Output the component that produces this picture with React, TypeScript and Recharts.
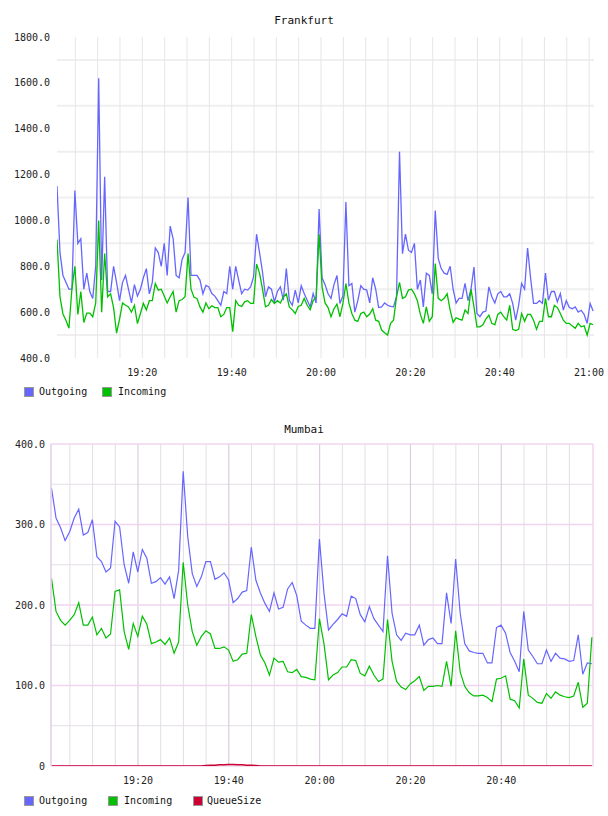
import React from 'react';
import { LineChart, Line, XAxis, YAxis, CartesianGrid, Legend } from 'recharts';

// ---------- data ----------
// x values are minutes after 19:00
const TIME_TICKS = [20, 40, 60, 80, 100, 120];
const TIME_LABELS = ['19:20', '19:40', '20:00', '20:20', '20:40', '21:00'];

const FRA_START = 0.9; // first sample, minutes after 19:00
const FRA_STEP = 2 / 3; // 40 s sampling
const FRA_DOMAIN = [0.9, 121.1];
const FRA_Y_TICKS = [400, 600, 800, 1000, 1200, 1400, 1600, 1800];
const FRA_Y_GRID = [500, 700, 900, 1100, 1300, 1500, 1700];
const FRA_X_GRID = [5, 10, 15, 20, 25, 30, 35, 40, 45, 50, 55, 60, 65, 70, 75, 80, 85, 90, 95, 100, 105, 110, 115, 120];

const FRA_OUT = [
  1150, 860, 760, 730, 700, 700, 1130, 900, 920, 700, 770, 690, 660, 800, 1620, 740, 1190, 690, 690, 800,
  730, 650, 730, 760, 700, 640, 720, 670, 700, 750, 790, 680, 730, 880, 860, 800, 900, 760, 975, 920,
  760, 750, 830, 860, 1100, 760, 760, 760, 740, 680, 717, 710, 681, 670, 650, 630, 690, 681, 800, 700,
  800, 740, 681, 700, 696, 710, 754, 940, 860, 775, 667, 710, 700, 645, 690, 710, 652, 790, 652, 630,
  696, 640, 715, 681, 652, 623, 681, 640, 1050, 750, 720, 680, 660, 720, 760, 638, 670, 1080, 715, 725,
  600, 650, 715, 700, 696, 640, 750, 700, 620, 623, 640, 630, 625, 623, 670, 1300, 855, 940, 870, 860,
  900, 700, 740, 623, 770, 760, 680, 1043, 834, 790, 770, 765, 800, 700, 640, 660, 660, 725, 650, 700,
  797, 594, 580, 600, 605, 710, 667, 640, 680, 690, 667, 667, 680, 638, 565, 630, 725, 700, 880, 750,
  638, 638, 650, 638, 770, 652, 690, 690, 645, 681, 609, 650, 620, 615, 623, 600, 608, 590, 551, 638,
  605,
];
const FRA_IN = [
  917, 667, 592, 565, 530, 700, 800, 590, 690, 555, 596, 596, 580, 640, 1000, 600, 856, 667, 680, 620,
  508, 570, 640, 630, 623, 600, 630, 550, 594, 638, 610, 650, 650, 725, 696, 700, 670, 640, 667, 690,
  600, 650, 655, 667, 856, 700, 665, 660, 623, 600, 640, 615, 628, 620, 620, 580, 590, 620, 620, 515,
  650, 630, 625, 645, 650, 638, 638, 810, 770, 700, 623, 630, 655, 638, 650, 640, 667, 680, 623, 610,
  594, 625, 630, 660, 630, 610, 650, 667, 940, 710, 640, 620, 580, 615, 635, 580, 638, 725, 640, 594,
  565, 560, 594, 600, 580, 592, 615, 565, 560, 522, 510, 500, 551, 565, 667, 730, 660, 667, 696, 700,
  680, 650, 590, 551, 623, 560, 580, 812, 660, 650, 660, 680, 609, 555, 575, 570, 565, 609, 594, 700,
  623, 536, 536, 545, 570, 587, 551, 545, 590, 600, 580, 565, 630, 525, 520, 525, 594, 560, 590, 590,
  565, 525, 560, 560, 660, 580, 580, 630, 620, 594, 565, 551, 551, 540, 530, 551, 536, 540, 500, 551,
  545,
];

const MUM_START = 0.95; // first sample, minutes after 19:00
const MUM_STEP = 1; // 1 min sampling
const MUM_DOMAIN = [0.84, 120.2];
const MUM_Y_TICKS = [0, 100, 200, 300, 400];
const MUM_Y_MINOR = [50, 150, 250, 350];
const MUM_X_MINOR = [5, 10, 15, 25, 30, 35, 45, 50, 55, 65, 70, 75, 85, 90, 95, 105, 110, 115];
const MUM_X_MAJOR = [20, 40, 60, 80, 100];
const MUM_X_EDGE = [120.2];

const MUM_OUT = [
  345, 308, 296, 280, 291, 308, 319, 287, 290, 306, 260, 254, 241, 246, 304, 297, 250, 227, 266, 241,
  269, 258, 227, 229, 234, 226, 235, 208, 243, 366, 285, 239, 223, 235, 254, 254, 232, 235, 240, 231,
  203, 208, 216, 218, 272, 231, 215, 202, 192, 215, 195, 197, 220, 228, 212, 180, 175, 171, 171, 282,
  215, 169, 176, 182, 189, 186, 211, 208, 188, 179, 198, 183, 175, 167, 261, 190, 163, 156, 165, 163,
  163, 175, 150, 157, 159, 152, 152, 215, 177, 257, 190, 152, 143, 141, 140, 140, 128, 128, 172, 175,
  165, 141, 130, 117, 192, 144, 136, 127, 127, 144, 130, 140, 134, 133, 130, 131, 163, 114, 128, 127,
];
const MUM_IN = [
  233, 192, 181, 175, 181, 188, 203, 175, 175, 185, 163, 171, 159, 164, 217, 219, 167, 145, 177, 161,
  186, 176, 152, 154, 157, 151, 159, 140, 154, 253, 200, 167, 150, 161, 168, 164, 146, 146, 148, 144,
  130, 132, 139, 140, 188, 161, 138, 128, 113, 134, 129, 130, 117, 116, 120, 111, 110, 108, 107, 183,
  152, 107, 113, 116, 123, 123, 132, 131, 115, 112, 124, 113, 105, 108, 182, 130, 105, 98, 95, 102,
  106, 111, 94, 99, 99, 100, 99, 130, 99, 168, 117, 99, 91, 87, 87, 88, 85, 80, 108, 109,
  112, 83, 81, 72, 133, 88, 84, 79, 78, 90, 84, 92, 88, 86, 85, 87, 104, 73, 78, 160,
];
const MUM_QUEUE = [
  0, 0, 0, 0, 0, 0, 0, 0, 0, 0, 0, 0, 0, 0, 0, 0, 0, 0, 0, 0,
  0, 0, 0, 0, 0, 0, 0, 0, 0, 0, 0, 0, 0, 0, 0.5, 1, 1, 1.5, 1.5, 2,
  2, 1.5, 1.5, 1, 1, 0.5, 0, 0, 0, 0, 0, 0, 0, 0, 0, 0, 0, 0, 0, 0,
  0, 0, 0, 0, 0, 0, 0, 0, 0, 0, 0, 0, 0, 0, 0, 0, 0, 0, 0, 0,
  0, 0, 0, 0, 0, 0, 0, 0, 0, 0, 0, 0, 0, 0, 0, 0, 0, 0, 0, 0,
  0, 0, 0, 0, 0, 0, 0, 0, 0, 0, 0, 0, 0, 0, 0, 0, 0, 0, 0, 0,
];

const fraData = FRA_OUT.map((v, i) => ({ t: FRA_START + i * FRA_STEP, Outgoing: v, Incoming: FRA_IN[i] }));
const mumData = MUM_OUT.map((v, i) => ({
  t: MUM_START + i * MUM_STEP,
  Outgoing: v,
  Incoming: MUM_IN[i],
  QueueSize: MUM_QUEUE[i],
}));

// ---------- styles ----------
const FONT = '"DejaVu Sans Mono", "Liberation Mono", monospace';
const C_OUT = '#6666ff';
const C_IN = '#00c000';
const C_Q = '#cc0033';

const labelOf = (v: number) => {
  const i = TIME_TICKS.indexOf(v);
  return i >= 0 ? TIME_LABELS[i] : '';
};

type LegendItem = { name: string; color: string; x: number; gap: number };

const LegendBox = ({ items }: { items: LegendItem[] }) => (
  <div style={{ position: 'relative', height: 12, fontFamily: FONT, fontSize: 10, color: '#111' }}>
    {items.map((it) => (
      <div
        key={it.name}
        style={{ position: 'absolute', left: it.x, top: 0, height: 12, display: 'flex', alignItems: 'center', whiteSpace: 'nowrap' }}
      >
        <span
          style={{ display: 'inline-block', width: 8, height: 8, background: it.color, border: '1px solid #999' }}
        />
        <span style={{ marginLeft: it.gap, lineHeight: '12px' }}>{it.name}</span>
      </div>
    ))}
  </div>
);

const titleStyle: React.CSSProperties = {
  position: 'absolute',
  left: 0,
  width: 608,
  textAlign: 'center',
  fontFamily: FONT,
  fontSize: 11,
  lineHeight: '13px',
  color: '#111',
  zIndex: 2,
};

const tickStyle = { fontSize: 10, fill: '#222', fontFamily: FONT };

// hidden helper axes that only feed grid line positions
const gridX = (id: string, domain: number[], ticks: number[]) => (
  <XAxis xAxisId={id} dataKey="t" type="number" domain={domain} ticks={ticks} allowDataOverflow hide interval={0} />
);
const gridY = (id: string, domain: number[], ticks: number[]) => (
  <YAxis yAxisId={id} type="number" domain={domain} ticks={ticks} allowDataOverflow hide interval={0} />
);

export default function App() {
  return (
    <div style={{ position: 'absolute', left: 0, top: 0, width: 608, height: 816, background: '#fff' }}>
      {/* Frankfurt */}
      <div style={{ position: 'absolute', left: 0, top: 0, width: 608, height: 405 }}>
        <div style={{ ...titleStyle, top: 14 }}>Frankfurt</div>
        <LineChart width={608} height={400} data={fraData} margin={{ top: 37, right: 14, bottom: 12, left: 0 }}>
          {gridX('fgx', FRA_DOMAIN, FRA_X_GRID)}
          {gridY('fgy', [400, 1800], FRA_Y_GRID)}
          <CartesianGrid yAxisId="fgy" syncWithTicks horizontal={true} vertical={false} stroke="#efefef" strokeWidth={2} />
          <CartesianGrid xAxisId="fgx" syncWithTicks horizontal={false} vertical={true} stroke="#e6e6e6" strokeWidth={1} />
          <XAxis
            dataKey="t"
            type="number"
            domain={FRA_DOMAIN}
            ticks={TIME_TICKS}
            tickFormatter={labelOf}
            allowDataOverflow
            axisLine={false}
            tickLine={false}
            tickSize={0}
            tickMargin={11}
            height={30}
            tick={tickStyle}
            interval={0}
          />
          <YAxis
            type="number"
            domain={[400, 1800]}
            ticks={FRA_Y_TICKS}
            tickFormatter={(v: number) => v.toFixed(1)}
            allowDataOverflow
            axisLine={false}
            tickLine={false}
            tickSize={0}
            tickMargin={7}
            width={57}
            tick={tickStyle}
            interval={0}
          />
          <Line type="linear" dataKey="Outgoing" stroke={C_OUT} strokeWidth={1.3} dot={false} isAnimationActive={false} />
          <Line type="linear" dataKey="Incoming" stroke={C_IN} strokeWidth={1.3} dot={false} isAnimationActive={false} />
          <Legend
            layout="horizontal"
            verticalAlign="middle"
            align="center"
            wrapperStyle={{ top: 386, left: 24, width: 400, height: 12 }}
            content={() => (
              <LegendBox
                items={[
                  { name: 'Outgoing', color: C_OUT, x: 0, gap: 5 },
                  { name: 'Incoming', color: C_IN, x: 78, gap: 6 },
                ]}
              />
            )}
          />
        </LineChart>
      </div>

      {/* Mumbai */}
      <div style={{ position: 'absolute', left: 0, top: 408, width: 608, height: 408 }}>
        <div style={{ ...titleStyle, top: 15 }}>Mumbai</div>
        <LineChart width={608} height={400} data={mumData} margin={{ top: 36, right: 15, bottom: 12, left: 0 }}>
          {gridX('mgx1', MUM_DOMAIN, MUM_X_MINOR)}
          {gridX('mgx2', MUM_DOMAIN, MUM_X_MAJOR)}
          {gridX('mgx3', MUM_DOMAIN, MUM_X_EDGE)}
          {gridY('mgy1', [0, 400], MUM_Y_MINOR)}
          {gridY('mgy2', [0, 400], MUM_Y_TICKS)}
          <CartesianGrid xAxisId="mgx1" yAxisId="mgy1" syncWithTicks horizontal={true} vertical={true} stroke="#e4dee6" strokeWidth={1} />
          <CartesianGrid xAxisId="mgx2" syncWithTicks horizontal={false} vertical={true} stroke="#dccbe2" strokeWidth={1.2} />
          <CartesianGrid xAxisId="mgx3" yAxisId="mgy2" syncWithTicks horizontal={true} vertical={true} stroke="#f0d4f0" strokeWidth={1.5} />
          <XAxis
            dataKey="t"
            type="number"
            domain={MUM_DOMAIN}
            ticks={TIME_TICKS.slice(0, 5)}
            tickFormatter={labelOf}
            allowDataOverflow
            axisLine={false}
            tickLine={false}
            tickSize={0}
            tickMargin={11}
            height={30}
            tick={tickStyle}
            interval={0}
          />
          <YAxis
            type="number"
            domain={[0, 400]}
            ticks={MUM_Y_TICKS}
            tickFormatter={(v: number) => (v === 0 ? '0' : v.toFixed(1))}
            allowDataOverflow
            axisLine={{ stroke: '#e2cce8', strokeWidth: 1.5 }}
            tickLine={false}
            tickSize={0}
            tickMargin={6}
            width={51}
            tick={tickStyle}
            interval={0}
          />
          <Line type="linear" dataKey="Outgoing" stroke={C_OUT} strokeWidth={1.2} dot={false} isAnimationActive={false} />
          <Line type="linear" dataKey="Incoming" stroke={C_IN} strokeWidth={1.2} dot={false} isAnimationActive={false} />
          <Line type="linear" dataKey="QueueSize" stroke={C_Q} strokeWidth={1.5} dot={false} isAnimationActive={false} />
          <Legend
            layout="horizontal"
            verticalAlign="middle"
            align="center"
            wrapperStyle={{ top: 387, left: 24, width: 400, height: 12 }}
            content={() => (
              <LegendBox
                items={[
                  { name: 'Outgoing', color: C_OUT, x: 0, gap: 5 },
                  { name: 'Incoming', color: C_IN, x: 84, gap: 6 },
                  { name: 'QueueSize', color: C_Q, x: 169, gap: 4 },
                ]}
              />
            )}
          />
        </LineChart>
      </div>
    </div>
  );
}
